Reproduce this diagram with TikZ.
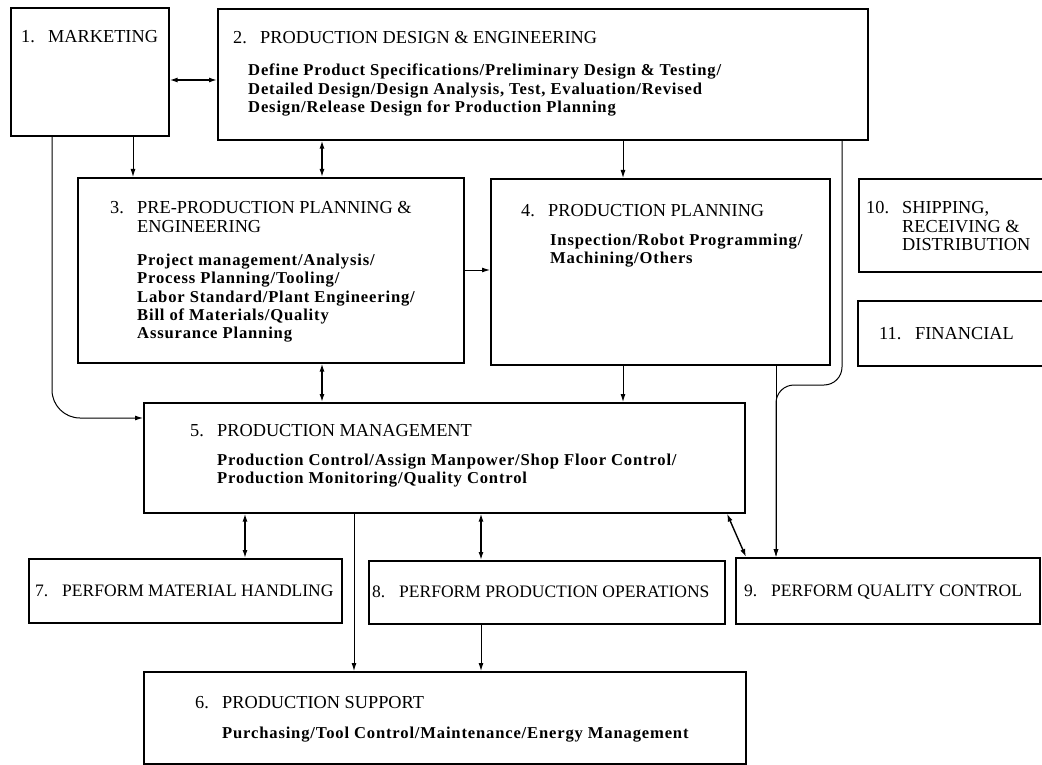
\documentclass[tikz,border=0pt]{standalone}
\usepackage{fontspec}
\setmainfont{Liberation Serif}
\newfontfamily\subfamily[LetterSpace=5]{Liberation Serif}
\usetikzlibrary{arrows.meta}
\tikzset{
  box/.style={draw, line width=1.6pt, inner sep=0pt, anchor=north west},
  conn/.style={line width=1pt, -{Latex[length=8pt,width=5pt]}},
  dconn/.style={line width=1.4pt, {Latex[length=8pt,width=5pt]}-{Latex[length=8pt,width=5pt]}},
  ttl/.style={anchor=base west, inner sep=0pt, font=\fontsize{18.3}{18}\selectfont},
  smallttl/.style={ttl, font=\fontsize{17.5}{18}\selectfont},
  sub/.style={anchor=base west, inner sep=0pt, font=\subfamily\bfseries\fontsize{16.6}{18.5}\selectfont},
}
\newcommand\mkbox[5]{\node[box, minimum width={#4pt-#2pt}, minimum height={#5pt-#3pt}] (#1) at (#2,#3) {};}
\newcommand\ttlnode[7][ttl]{\node[#1] (#2) at (#3,#4) {\begin{tabular}[t]{@{}l@{}l@{}}\makebox[#5][l]{#6}&#7\end{tabular}};}
\newcommand\subnode[4]{\node[sub] (#1) at (#2,#3) {\begin{tabular}[t]{@{}l@{}}#4\end{tabular}};}
\begin{document}
\begin{tikzpicture}[x=1pt,y=-1pt]
\clip (0,0) rectangle (1042,765);
\fill[white] (0,0) rectangle (1042,765);
% boxes
\mkbox{b1}{10}{7}{168}{135}
\mkbox{b2}{217}{8}{867}{139}
\mkbox{b3}{77}{177}{463}{362}
\mkbox{b4}{490}{178}{829}{364}
\mkbox{b10}{858}{178}{1090}{271}
\mkbox{b11}{857}{300}{1090}{365}
\mkbox{b5}{143}{402}{744}{512}
\mkbox{b7}{28}{558}{341}{622}
\mkbox{b8}{368}{560}{724}{623}
\mkbox{b9}{735}{557}{1039}{623}
\mkbox{b6}{143}{671}{745}{763}
% texts
\ttlnode{t1}{21}{43}{27pt}{1.}{MARKETING}
\ttlnode{t2}{233}{44}{27pt}{2.}{PRODUCTION DESIGN \& ENGINEERING}
\subnode{s2}{248}{76}{Define Product Specifications/Preliminary Design \& Testing/\\Detailed Design/Design Analysis, Test, Evaluation/Revised\\Design/Release Design for Production Planning}
\ttlnode{t3}{110}{214}{27pt}{3.}{PRE-PRODUCTION PLANNING \&\\&ENGINEERING}
\subnode{s3}{137}{265}{Project management/Analysis/\\Process Planning/Tooling/\\Labor Standard/Plant Engineering/\\Bill of Materials/Quality\\Assurance Planning}
\ttlnode{t4}{521}{216}{27pt}{4.}{PRODUCTION PLANNING}
\subnode{s4}{550}{245}{Inspection/Robot Programming/\\Machining/Others}
\ttlnode{t10}{866}{214}{36pt}{10.}{SHIPPING,\\&RECEIVING \&\\&DISTRIBUTION}
\ttlnode{t11}{879}{339}{36pt}{11.}{FINANCIAL}
\ttlnode{t5}{190}{436}{27pt}{5.}{PRODUCTION MANAGEMENT}
\subnode{s5}{217}{465}{Production Control/Assign Manpower/Shop Floor Control/\\Production Monitoring/Quality Control}
\ttlnode[smallttl]{t7}{35}{596}{27pt}{7.}{PERFORM MATERIAL HANDLING}
\ttlnode[smallttl]{t8}{372}{597}{27pt}{8.}{PERFORM PRODUCTION OPERATIONS}
\ttlnode[smallttl]{t9}{744}{596}{27pt}{9.}{PERFORM QUALITY CONTROL}
\ttlnode{t6}{195}{708}{27pt}{6.}{PRODUCTION SUPPORT}
\subnode{s6}{222}{738}{Purchasing/Tool Control/Maintenance/Energy Management}
% guide coordinates
\coordinate (X52) at (52,0);
\coordinate (X133) at (133,0);
\coordinate (X322) at (322,0);
\coordinate (X623) at (623,0);
\coordinate (X842) at (842,0);
\coordinate (X776) at (776,0);
\coordinate (X245) at (245,0);
\coordinate (X354) at (354,0);
\coordinate (X481) at (481,0);
\coordinate (X727) at (727,0);
\coordinate (X746) at (746,0);
\coordinate (Y80) at (0,80);
\coordinate (Y270) at (0,270);
\coordinate (Y385) at (0,385);
\coordinate (Y418) at (0,418);
% connectors
\draw[dconn] (b1.east |- Y80) -- (b2.west |- Y80);
\draw[conn] (b1.south -| X133) -- (b3.north -| X133);
\draw[conn, rounded corners=28pt] (b1.south -| X52) |- (b5.west |- Y418);
\draw[dconn] (b2.south -| X322) -- (b3.north -| X322);
\draw[conn] (b2.south -| X623) -- (b4.north -| X623);
\draw[conn, rounded corners=18pt] (b2.south -| X842) |- (X776 |- Y385) -- (b9.north -| X776);
\draw[conn] (b3.east |- Y270) -- (b4.west |- Y270);
\draw[dconn] (b3.south -| X322) -- (b5.north -| X322);
\draw[conn] (b4.south -| X623) -- (b5.north -| X623);
\draw[conn] (b4.south -| X776) -- (b9.north -| X776);
\draw[dconn] (b5.south -| X245) -- (b7.north -| X245);
\draw[conn] (b5.south -| X354) -- (b6.north -| X354);
\draw[dconn] (b5.south -| X481) -- (b8.north -| X481);
\draw[dconn] (b5.south -| X727) -- (b9.north -| X746);
\draw[conn] (b8.south -| X481) -- (b6.north -| X481);
\end{tikzpicture}
\end{document}
